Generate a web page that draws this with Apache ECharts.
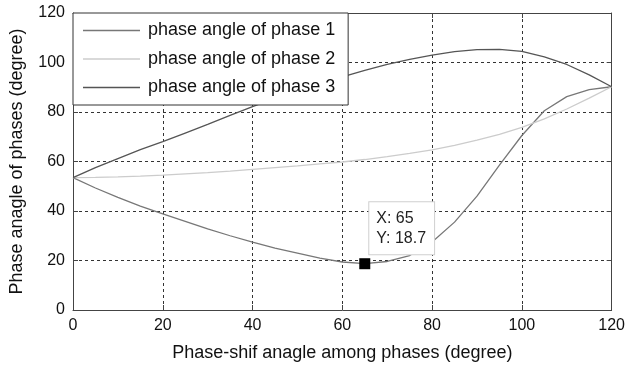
<!DOCTYPE html>
<html>
<head>
<meta charset="utf-8">
<script src="https://cdn.jsdelivr.net/npm/echarts@6/dist/echarts.min.js"></script>
<style>html,body{margin:0;padding:0;background:#fff}#c{width:628px;height:367px}</style>
</head>
<body>
<div id="c"></div>
<script>
var xValues = [0,5,10,15,20,25,30,35,40,45,50,55,60,65,70,75,80,85,90,95,100,105,110,115,120];
var phase1 = [53.5,49.3,45.5,42.0,38.8,35.8,32.8,30.0,27.4,25.0,23.0,21.0,19.4,18.7,19.6,22.0,27.5,35.5,46.0,58.5,70.5,80.5,86.2,89.0,90.2];
var phase2 = [53.5,53.6,53.8,54.1,54.5,55.0,55.5,56.1,56.8,57.5,58.2,59.0,59.8,60.8,62.0,63.3,64.7,66.5,68.6,71.0,73.8,77.2,81.2,85.6,90.2];
var phase3 = [53.5,57.5,61.2,64.8,68.0,71.5,75.0,78.6,82.2,85.6,88.8,91.8,94.2,96.8,99.2,101.3,103.0,104.4,105.2,105.3,104.5,102.3,99.2,95.0,90.2];
var seriesNames = ['phase angle of phase 1','phase angle of phase 2','phase angle of phase 3'];
var dataTip = [65, 18.7];
var xTicks = {min:0, max:120, interval:20};
var yTicks = {min:0, max:120, interval:20};

function pairs(xs, ys){ return xs.map(function(x,i){ return [x, ys[i]]; }); }

var font = 'Liberation Sans, Arial, sans-serif';
var chart = echarts.init(document.getElementById('c'));
var frameColor = '#444';
function axisBase(pos, ticks, isMain){
  return {
    type:'value', position:pos, min:ticks.min, max:ticks.max, interval:ticks.interval,
    axisLine:{show:true, onZero:false, lineStyle:{color:frameColor, width:1}},
    axisTick:{show:true, inside:true, length:5, lineStyle:{color:frameColor}},
    axisLabel:{show:isMain, color:'#111', fontSize:16, fontFamily:font, margin:8},
    splitLine:{show:isMain, lineStyle:{color:'#333', type:[3,3], width:1}}
  };
}
var xMain = axisBase('bottom', xTicks, true);
xMain.name = 'Phase-shif anagle among phases (degree)';
xMain.nameLocation = 'middle';
xMain.nameGap = 34;
xMain.nameTextStyle = {color:'#111', fontSize:18, fontFamily:font};
var yMain = axisBase('left', yTicks, true);
yMain.name = 'Phase anagle of phases (degree)';
yMain.nameLocation = 'middle';
yMain.nameGap = 47;
yMain.nameTextStyle = {color:'#111', fontSize:18, fontFamily:font};

var colors = ['#777777','#cccccc','#555555'];
var data = [phase1, phase2, phase3];
var series = seriesNames.map(function(n,i){
  return {name:n, type:'line', data:pairs(xValues, data[i]), symbol:'none', smooth:false,
    lineStyle:{color:colors[i], width:1.3}, itemStyle:{color:colors[i]}, z:2};
});
series.push({
  name:'datatip', type:'scatter', data:[dataTip], symbol:'rect', symbolSize:11,
  itemStyle:{color:'#000', opacity:1}, z:5,
  label:{show:true, position:[10,-56], formatter:function(p){return 'X: '+p.value[0]+'\nY: '+p.value[1];},
    backgroundColor:'#fff', borderColor:'#cfcfcf', borderWidth:1, padding:[6,8,6,7],
    lineHeight:20, fontSize:16, fontFamily:font, color:'#222'}
});

chart.setOption({
  animation:false,
  backgroundColor:'#fff',
  grid:{left:73, right:15, top:13, bottom:57, containLabel:false},
  xAxis:[xMain, axisBase('top', xTicks, false)],
  yAxis:[yMain, axisBase('right', yTicks, false)],
  legend:{
    data:seriesNames, orient:'vertical', left:73, top:13, icon:'rect',
    backgroundColor:'#fff', borderColor:'#333', borderWidth:1,
    padding:[7.5,13,7.5,10], itemWidth:57, itemHeight:1.5, itemGap:8.5,
    textStyle:{color:'#111', fontSize:18, lineHeight:20, fontFamily:font, padding:[0,0,0,3]},
    selectedMode:false
  },
  series:series
});
</script>
</body>
</html>
